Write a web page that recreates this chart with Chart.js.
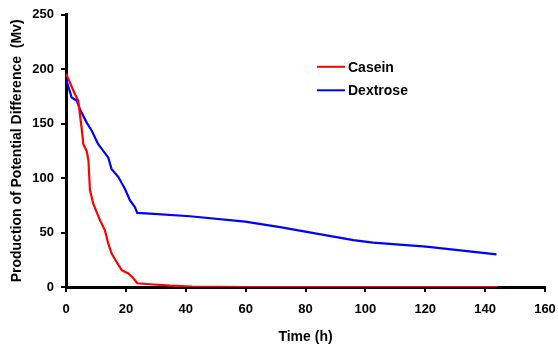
<!DOCTYPE html>
<html>
<head>
<meta charset="utf-8">
<script src="https://cdn.jsdelivr.net/npm/chart.js@4/dist/chart.umd.min.js"></script>
<style>
  html, body { margin: 0; padding: 0; background: #fff; }
  #wrap { width: 558px; height: 344px; }
</style>
</head>
<body>
<div id="wrap"><canvas id="potChart"></canvas></div>
<script>
// Casein: time (h) and potential difference (Mv)
const caseinTime = [0, 3, 4.1, 5.2, 5.8, 6.9, 7.5, 8, 9.1, 11.4, 13, 14.1, 15.2, 16.9, 18.6, 20.8, 22.5, 23.8, 28, 34.7, 42, 60, 80, 100, 120, 144.3];
const caseinMv   = [196, 177, 171, 146.5, 131, 125, 116, 89, 76.5, 61, 52, 40, 31, 23, 15.5, 12.5, 8, 3.4, 2.5, 1.2, 0.3, 0, 0, 0, 0, 0];

// Dextrose
const dextroseTime = [0, 1.9, 3.6, 4.7, 6.9, 8.6, 10.8, 14.1, 15.2, 17.5, 19.7, 21.4, 23, 23.8, 28, 41.4, 59.8, 71.5, 80.4, 96, 102.5, 120.3, 143.8];
const dextroseMv   = [191, 174, 171, 163, 151, 143.5, 131, 119, 108.5, 101, 90, 79.5, 73.4, 68, 67.4, 65, 60, 55, 50.6, 43, 40.8, 37, 30];

const xTicks = [0, 20, 40, 60, 80, 100, 120, 140, 160];
const yTicks = [0, 50, 100, 150, 200, 250];

const toPoints = (xs, ys) => xs.map((x, i) => ({x: x, y: ys[i]}));

const fam = 'Liberation Sans, Arial, sans-serif';
const tickFont = { family: fam, size: 13, weight: 'bold' };

// legend drawn inside plot area, like the original
const insideLegend = {
    id: 'insideLegend',
    afterDraw(chart) {
        const c = chart.ctx;
        const area = chart.chartArea;
        const x0 = area.left + 251;
        let y0 = area.top + 52;
        c.save();
        c.font = 'bold 14px ' + fam;
        c.textBaseline = 'middle';
        chart.data.datasets.forEach(ds => {
            c.strokeStyle = ds.borderColor;
            c.lineWidth = 2;
            c.beginPath();
            c.moveTo(x0, y0);
            c.lineTo(x0 + 28, y0);
            c.stroke();
            c.fillStyle = '#000';
            c.fillText(ds.label, x0 + 31, y0 + 1);
            y0 += 23.5;
        });
        c.restore();
    }
};

const ctx = document.getElementById('potChart');
new Chart(ctx, {
    type: 'line',
    data: {
        datasets: [{
            label: 'Casein',
            data: toPoints(caseinTime, caseinMv),
            borderColor: 'rgb(255,0,0)',
            backgroundColor: 'rgb(255,0,0)',
            borderWidth: 2.2,
            pointRadius: 0,
            tension: 0
        }, {
            label: 'Dextrose',
            data: toPoints(dextroseTime, dextroseMv),
            borderColor: 'rgb(0,0,255)',
            backgroundColor: 'rgb(0,0,255)',
            borderWidth: 2.2,
            pointRadius: 0,
            tension: 0
        }]
    },
    options: {
        responsive: true,
        maintainAspectRatio: false,
        animation: false,
        layout: { padding: { top: 8, right: 13, left: 0, bottom: 0 } },
        scales: {
            x: {
                type: 'linear',
                min: 0,
                max: 160,
                afterBuildTicks: axis => { axis.ticks = xTicks.map(v => ({value: v})); },
                afterFit: axis => {
                    axis.height = 57;
                    axis.paddingLeft = 0;
                    axis.paddingRight = 0;
                },
                border: { display: true, color: '#000', width: 3 },
                grid: { drawOnChartArea: false, color: '#000', lineWidth: 2, tickLength: 5 },
                ticks: { color: '#000', font: tickFont, padding: 10, maxRotation: 0 },
                title: { display: true, text: 'Time (h)', color: '#000', font: { family: fam, size: 14, weight: 'bold', lineHeight: 1.05 }, padding: 0 }
            },
            y: {
                min: 0,
                max: 250,
                afterBuildTicks: axis => { axis.ticks = yTicks.map(v => ({value: v})); },
                afterFit: axis => { axis.width = 66; },
                border: { display: true, color: '#000', width: 3 },
                grid: { drawOnChartArea: false, color: '#000', lineWidth: 2, tickLength: 5 },
                ticks: { color: '#000', font: tickFont, padding: 7 },
                title: { display: true, text: 'Production of Potential Difference  (Mv)', color: '#000', font: { family: fam, size: 14, weight: 'bold' }, padding: { top: 9, bottom: 0 } }
            }
        },
        plugins: {
            legend: { display: false },
            tooltip: { enabled: false }
        }
    },
    plugins: [insideLegend]
});
</script>
</body>
</html>
